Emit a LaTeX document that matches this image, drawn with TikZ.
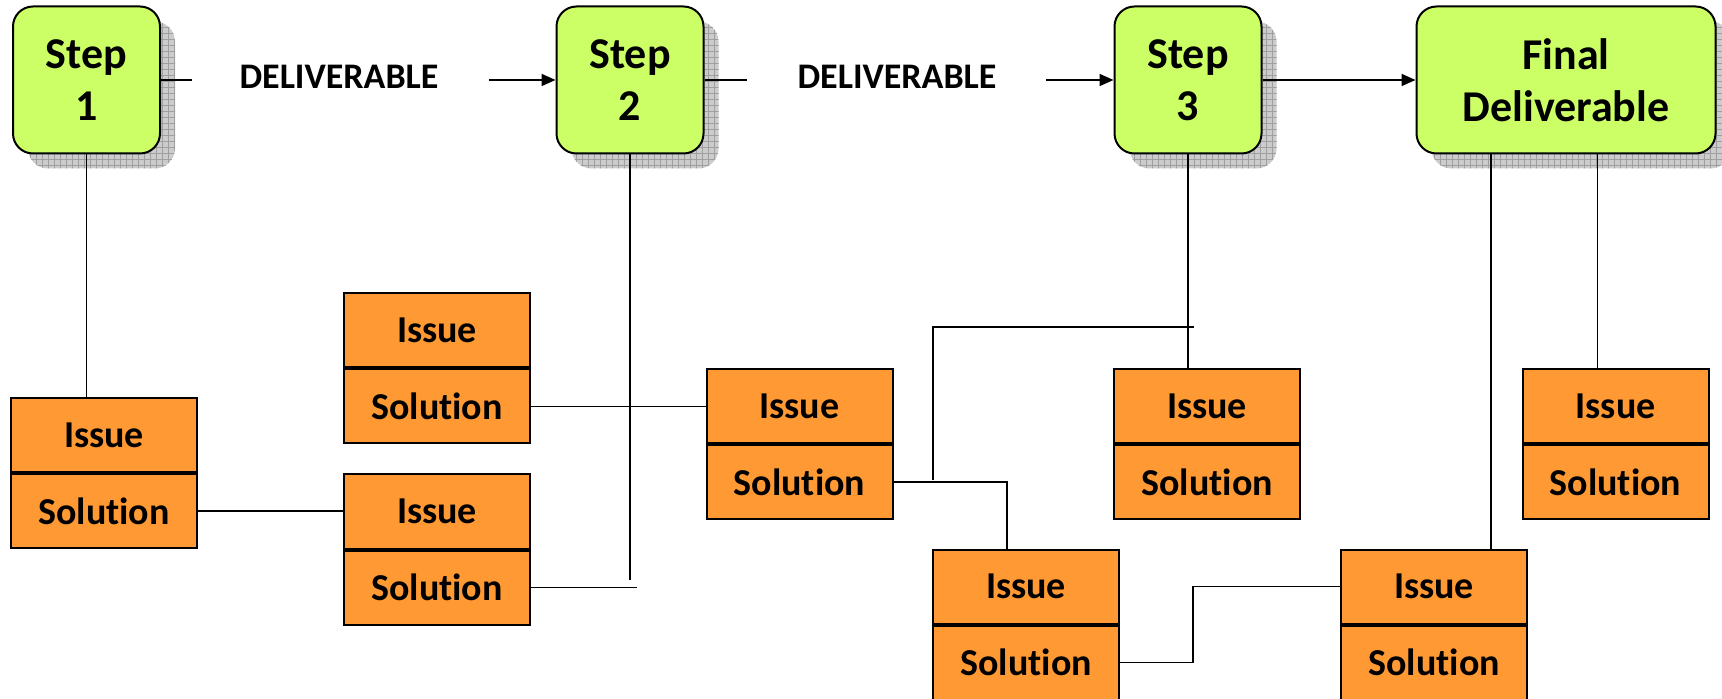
\documentclass[tikz,border=0pt]{standalone}
\usepackage{fontspec}
\setmainfont{Carlito}[Ligatures=NoCommon]
\usetikzlibrary{arrows.meta,shadows,patterns}

\definecolor{stepgreen}{RGB}{204,255,102}
\definecolor{issueorange}{RGB}{255,153,51}

\begin{document}
\begin{tikzpicture}[x=0.5pt,y=-0.5pt,
  stepbox/.style={draw,line width=1pt,rounded corners=10pt,fill=stepgreen,
    minimum width=73.5pt,minimum height=73.5pt,align=center,inner sep=0pt,
    font=\bfseries\fontsize{22}{26}\selectfont,
    drop shadow={shadow xshift=7.5pt,shadow yshift=-7.5pt,opacity=1,fill=gray!40,
      postaction={pattern=grid,pattern color=gray!75}}},
  halfbox/.style={draw,line width=1pt,fill=issueorange,minimum width=93pt,
    minimum height=37pt,inner sep=0pt,font=\bfseries\fontsize{19}{23}\selectfont},
  label/.style={font=\bfseries\fontsize{18}{22}\selectfont},
  link/.style={line width=0.9pt},
  arr/.style={line width=0.9pt,-{Triangle[length=7pt,width=6pt]}}]

\useasboundingbox (0,0) rectangle (1722,699);

% the steps along the top
\node[stepbox] (st1) at (86.5,80) {Step\\1};
\node[stepbox] (st2) at (630,80) {Step\\2};
\node[stepbox] (st3) at (1188,80) {Step\\3};
\node[stepbox,minimum width=149.5pt] (fin) at (1566,80) {Final\\Deliverable};

\node[label] (d1) at (339,77) {DELIVERABLE};
\node[label] (d2) at (897,77) {DELIVERABLE};

\coordinate (d1a) at (192,80);
\coordinate (d1b) at (489,80);
\coordinate (d2a) at (747,80);
\coordinate (d2b) at (1046,80);
\draw[link] (st1.east) -- (d1a);
\draw[arr] (d1b) -- (st2.west);
\draw[link] (st2.east) -- (d2a);
\draw[arr] (d2b) -- (st3.west);
\draw[arr] (st3.east) -- (fin.west);

% issue / solution pairs
\foreach \n/\x/\y in {1/104/435, 2/437/330.5, 3/437/511.5, 4/799.5/406,
    5/1207/406, 6/1026/586.5, 7/1434/586.5, 8/1615.5/406}{
  \node[halfbox] (i\n) at (\x,\y) {Issue};
  \node[halfbox,anchor=north] (s\n) at (i\n.south) {Solution};
}

\draw[link] (st1.south) -- (st1.south |- i1.north);
\draw[link] (s1.east) -- (s1.east -| i3.west);

\coordinate (c2) at (631,580);
\coordinate (c3) at (637,586);
\draw[link] (st2.south) -- (st2.south |- c2);
\draw[link] (s3.east) -- (s3.east -| c3);
\draw[link] (s2.east) -- (s2.east -| i4.west);

\coordinate (j1) at (1007,549);
\coordinate (j2) at (933,480);
\coordinate (j3) at (1193.5,327);
\coordinate (j4) at (1193,0);
\draw[link] (s4.east) -| (j1);
\draw[link] (j2) |- (j3);
\draw[link] (st3.south) -- (st3.south |- i5.north);
\draw[link] (s6.east) -- (s6.east -| j4) -- (i7.west -| j4) -- (i7.west);

\draw[link] (fin.south) ++(-75,0) coordinate (f1) -- (f1 |- i7.north);
\draw[link] (fin.south) ++(31.5,0) coordinate (f2) -- (f2 |- i8.north);
\end{tikzpicture}
\end{document}
